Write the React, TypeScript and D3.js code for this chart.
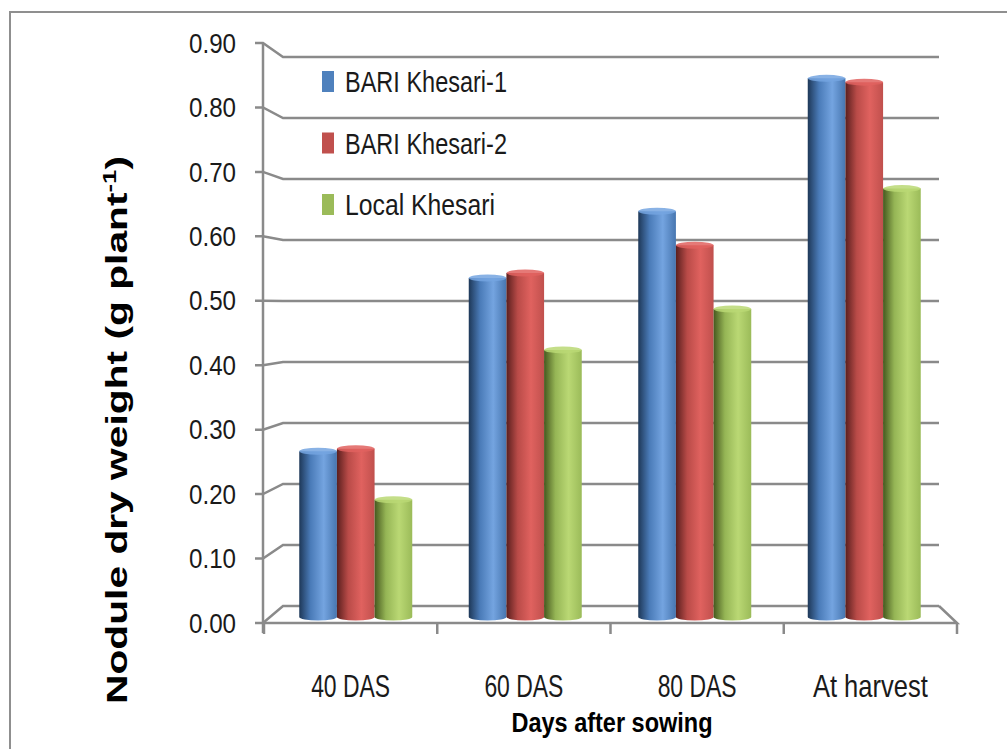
import React from "react";
import * as d3 from "d3";

const categories = ["40 DAS", "60 DAS", "80 DAS", "At harvest"];
const seriesNames = ["BARI Khesari-1", "BARI Khesari-2", "Local Khesari"];
const bari1 = [0.263, 0.538, 0.644, 0.855];
const bari2 = [0.267, 0.546, 0.59, 0.849];
const local = [0.186, 0.424, 0.489, 0.68];
const yTicks = [0, 0.1, 0.2, 0.3, 0.4, 0.5, 0.6, 0.7, 0.8, 0.9];

const seriesValues = [bari1, bari2, local];
const palette = [
  { dark: "#1e3858", mid: "#4a7bb8", light: "#74a4e0", edge: "#4776b0", flat: "#4f81bd" },
  { dark: "#5a1f1e", mid: "#b94b48", light: "#e0625f", edge: "#c0504d", flat: "#c0504d" },
  { dark: "#46591f", mid: "#95b555", light: "#bad874", edge: "#9bbb59", flat: "#9bbb59" },
];

export default function App() {
  const W = 1007;
  const H = 749;

  // Three depth planes: front axis, the bars, and the back wall.
  const yFront = d3.scaleLinear().domain([0, 0.9]).range([623, 43]);
  const yBar = d3.scaleLinear().domain([0, 0.9]).range([617, 50]);
  const yBack = d3.scaleLinear().domain([0, 0.9]).range([606, 57]);

  const xFront = d3.scaleBand<string>().domain(categories).range([264, 957]);
  const xBar = d3.scaleBand<string>().domain(categories).range([271, 949]);
  const backLeft = 283;
  const backRight = 939;

  const groupW = 113;
  const xSub = d3.scaleBand<number>().domain([0, 1, 2]).range([0, groupW]);
  const bw = xSub.bandwidth();
  const capRy = 3.5;

  const grid = "#8a8a8a";
  const font = "'Liberation Sans', Arial, sans-serif";

  return (
    <svg
      width={W}
      height={H}
      style={{ position: "absolute", left: 0, top: 0, background: "#fff" }}
    >
      <defs>
        {palette.map((c, i) => (
          <linearGradient key={i} id={`cyl${i}`} x1="0" x2="1" y1="0" y2="0">
            <stop offset="0%" stopColor={c.dark} />
            <stop offset="30%" stopColor={c.mid} />
            <stop offset="65%" stopColor={c.light} />
            <stop offset="100%" stopColor={c.edge} />
          </linearGradient>
        ))}
      </defs>

      {/* outer frame */}
      <rect x={10} y={12} width={1010} height={760} fill="none" stroke="#8f8f8f" strokeWidth={2} />

      {/* gridlines: tick on front axis, diagonal to the back wall, then across */}
      {yTicks.map((t) => (
        <path
          key={t}
          d={`M255,${yFront(t)} L263,${yFront(t)} L${backLeft},${yBack(t)} L${backRight},${yBack(t)}`}
          fill="none"
          stroke={grid}
          strokeWidth={2.5}
        />
      ))}

      {/* floor edges */}
      <path
        d={`M${backRight},${yBack(0)} L957,${yFront(0)} L263,${yFront(0)}`}
        fill="none"
        stroke={grid}
        strokeWidth={2.5}
      />

      {/* front value axis */}
      <line x1={263} x2={263} y1={yFront(0.9)} y2={633} stroke={grid} strokeWidth={2.5} />

      {/* category axis ticks */}
      {[...categories.map((c) => xFront(c) as number), xFront.range()[1]].map((x, i) => (
        <line key={i} x1={x} x2={x} y1={yFront(0)} y2={634} stroke={grid} strokeWidth={2.5} />
      ))}

      {/* cylinders */}
      {categories.map((cat, ci) => {
        const cx0 = (xBar(cat) as number) + xBar.bandwidth() / 2 - groupW / 2;
        return seriesValues.map((vals, si) => {
          const x = cx0 + (xSub(si) as number);
          const top = yBar(vals[ci]);
          const bot = yBar(0);
          const c = palette[si];
          return (
            <g key={`${ci}-${si}`}>
              <path
                d={`M${x},${top} L${x},${bot} A${bw / 2},${capRy} 0 0 0 ${x + bw},${bot} L${x + bw},${top} Z`}
                fill={`url(#cyl${si})`}
              />
              <ellipse cx={x + bw / 2} cy={top} rx={bw / 2} ry={capRy} fill={c.light} opacity={0.85} />
            </g>
          );
        });
      })}

      {/* y tick labels */}
      {yTicks.map((t) => (
        <text
          key={t}
          x={236}
          y={yFront(t)}
          dy="0.36em"
          textAnchor="end"
          fontFamily={font}
          fontSize={27}
          textLength={47}
          lengthAdjust="spacingAndGlyphs"
          fill="#1a1a1a"
        >
          {t.toFixed(2)}
        </text>
      ))}

      {/* category labels */}
      {categories.map((c, i) => (
        <text
          key={c}
          x={(xFront(c) as number) + xFront.bandwidth() / 2}
          y={697}
          textAnchor="middle"
          fontFamily={font}
          fontSize={32}
          textLength={i === 3 ? 115 : 79}
          lengthAdjust="spacingAndGlyphs"
          fill="#1a1a1a"
        >
          {c}
        </text>
      ))}

      {/* axis titles */}
      <text
        x={612}
        y={732}
        textAnchor="middle"
        fontFamily={font}
        fontWeight="bold"
        fontSize={28}
        textLength={201}
        lengthAdjust="spacingAndGlyphs"
        fill="#000"
      >
        Days after sowing
      </text>
      <text
        transform="translate(127,430) rotate(-90)"
        textAnchor="middle"
        fontFamily={font}
        fontWeight="bold"
        fontSize={30}
        fill="#000"
        textLength={548}
        lengthAdjust="spacingAndGlyphs"
      >
        Nodule dry weight (g plant<tspan dy={-11} fontSize={19}>-1</tspan>
        <tspan dy={11}>)</tspan>
      </text>

      {/* legend */}
      {seriesNames.map((name, i) => {
        const base = 92 + i * 61.5;
        return (
          <g key={name}>
            <rect x={322} y={base - 21} width={12} height={21} fill={palette[i].flat} />
            <text
              x={345}
              y={base}
              fontFamily={font}
              fontSize={30}
              textLength={i === 2 ? 150 : 162}
              lengthAdjust="spacingAndGlyphs"
              fill="#1a1a1a"
            >
              {name}
            </text>
          </g>
        );
      })}
    </svg>
  );
}
